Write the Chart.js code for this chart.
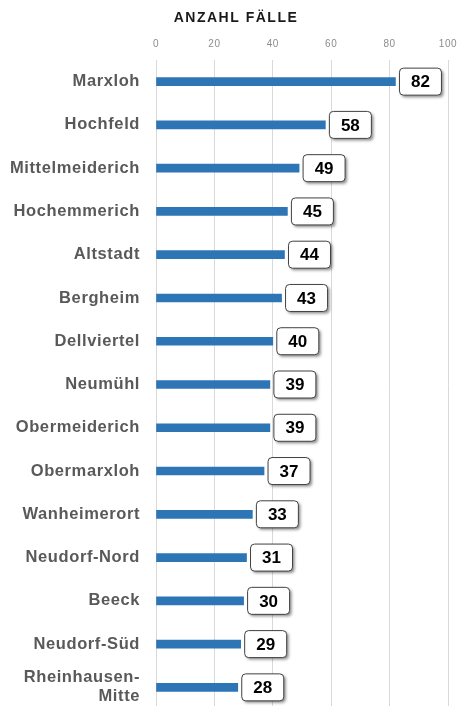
<!DOCTYPE html>
<html>
<head>
<meta charset="utf-8">
<script src="https://cdn.jsdelivr.net/npm/chart.js@4.4.1/dist/chart.umd.min.js"></script>
<style>
  html, body { margin: 0; padding: 0; background: #fff; }
  .wrap { width: 459px; height: 706px; overflow: hidden; }
</style>
</head>
<body>
<div class="wrap"><canvas id="chart" width="459" height="712"></canvas></div>
<script>
// data
const districts = ['Marxloh', 'Hochfeld', 'Mittelmeiderich', 'Hochemmerich', 'Altstadt', 'Bergheim',
  'Dellviertel', 'Neumühl', 'Obermeiderich', 'Obermarxloh', 'Wanheimerort', 'Neudorf-Nord',
  'Beeck', 'Neudorf-Süd', ['Rheinhausen-', 'Mitte']];
const cases = [82, 58, 49, 45, 44, 43, 40, 39, 39, 37, 33, 31, 30, 29, 28];
const xTicks = [0, 20, 40, 60, 80, 100];
const chartTitle = 'ANZAHL FÄLLE';

const FONT = '"Liberation Sans", Arial, sans-serif';

// wider letter spacing like the original, plus the title
const spacing = {
  id: 'spacing',
  beforeDraw(chart) {
    chart.ctx.letterSpacing = '0.6px';
  },
  afterDraw(chart) {
    const ctx = chart.ctx;
    ctx.save();
    ctx.letterSpacing = '1.5px';
    ctx.font = 'bold 14px ' + FONT;
    ctx.fillStyle = '#1a1a1a';
    ctx.textAlign = 'center';
    ctx.textBaseline = 'middle';
    ctx.fillText(chartTitle, 236, 18);
    ctx.restore();
    ctx.letterSpacing = '0px';
  }
};

// little boxes with the value next to each bar
const valueBoxes = {
  id: 'valueBoxes',
  afterDatasetsDraw(chart) {
    const ctx = chart.ctx;
    const meta = chart.getDatasetMeta(0);
    const w = 42, h = 27, r = 4;
    ctx.save();
    ctx.letterSpacing = '0px';
    meta.data.forEach((bar, i) => {
      const x = bar.x + 4;
      const y = bar.y - h / 2;
      ctx.shadowColor = 'rgba(0,0,0,0.45)';
      ctx.shadowBlur = 3;
      ctx.shadowOffsetX = 2;
      ctx.shadowOffsetY = 2;
      ctx.beginPath();
      ctx.roundRect(x, y, w, h, r);
      ctx.fillStyle = '#fff';
      ctx.fill();
      ctx.shadowColor = 'transparent';
      ctx.lineWidth = 1;
      ctx.strokeStyle = '#404040';
      ctx.stroke();
      ctx.fillStyle = '#000';
      ctx.font = 'bold 17px ' + FONT;
      ctx.textAlign = 'center';
      ctx.textBaseline = 'middle';
      ctx.fillText(cases[i], x + w / 2, bar.y + 1);
    });
    ctx.restore();
  }
};

const ctx = document.getElementById('chart').getContext('2d');
const chart = new Chart(ctx, {
  type: 'bar',
  data: {
    labels: districts,
    datasets: [{
      data: cases,
      backgroundColor: '#2e75b6',
      barThickness: 8
    }]
  },
  options: {
    indexAxis: 'y',
    responsive: false,
    animation: false,
    layout: { padding: { left: 0, right: 11, top: 35, bottom: 3 } },
    plugins: {
      legend: { display: false },
      tooltip: { enabled: false },
      title: { display: false }
    },
    scales: {
      x: {
        position: 'top',
        min: 0,
        max: 100,
        afterBuildTicks: (scale) => { scale.ticks = xTicks.map(v => ({ value: v })); },
        afterFit: (scale) => {
          scale.height = 25;
          scale.paddingLeft = 0;
          scale.paddingRight = 0;
        },
        ticks: {
          color: '#8c8c8c',
          padding: 10,
          font: { family: FONT, size: 10 }
        },
        grid: { color: '#d9d9d9', drawTicks: false },
        border: { display: false }
      },
      y: {
        afterFit: (scale) => {
          scale.width = 156;
          scale.paddingTop = 0;
          scale.paddingBottom = 0;
        },
        ticks: {
          color: '#595959',
          padding: 16,
          font: { family: FONT, size: 16.5, weight: 'bold', lineHeight: 1.15 }
        },
        grid: { display: false, drawTicks: false },
        border: { display: false }
      }
    }
  },
  plugins: [spacing, valueBoxes]
});
</script>
</body>
</html>
